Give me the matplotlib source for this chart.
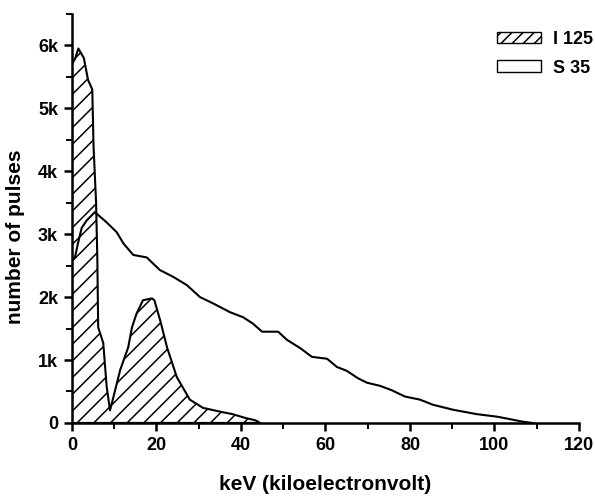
import numpy as np
import matplotlib
matplotlib.use('Agg')
import matplotlib.pyplot as plt
from matplotlib.patches import Patch
from matplotlib.ticker import MultipleLocator, FuncFormatter

plt.rcParams['font.family'] = ['Liberation Sans', 'DejaVu Sans']
plt.rcParams['font.weight'] = 'bold'
plt.rcParams['hatch.linewidth'] = 1.1

# I 125 spectrum (keV, pulses)
i125_kev = [0, 0.8, 1.5, 2.8, 3.8, 4.8, 5.1, 5.7, 6.0, 6.2, 7.4, 8.2, 9.0, 9.8,
            11.4, 13.3, 14.2, 15.3, 16.8, 18.9, 19.5, 21.0, 22.5, 24.8, 27.9,
            31.0, 35.0, 38.0, 41.0, 43.5, 44.5]
i125_cnt = [5700, 5800, 5950, 5800, 5450, 5300, 4400, 3500, 2600, 1520, 1270, 580,
            200, 410, 840, 1200, 1520, 1740, 1950, 1980, 1950, 1600, 1200, 730,
            370, 240, 180, 140, 80, 40, 0]

# S 35 spectrum (keV, pulses)
s35_kev = [0, 0.7, 1.4, 2.3, 3.5, 5.4, 8.0, 10.6, 12.2, 14.5, 17.7, 20.8, 24.0,
           27.2, 30.3, 33.4, 37.4, 40.5, 42.8, 45.0, 48.8, 50.9, 54.0, 56.8,
           60.4, 62.7, 65.0, 67.7, 69.8, 72.9, 75.7, 78.8, 82.4, 85.4, 90.2,
           95.8, 100.6, 103.7, 106.7, 109.0]
s35_cnt = [2600, 2630, 2850, 3100, 3220, 3350, 3200, 3030, 2850, 2670, 2630, 2430,
           2320, 2190, 2000, 1900, 1760, 1680, 1580, 1450, 1450, 1320, 1190, 1050,
           1020, 890, 830, 710, 640, 590, 520, 420, 370, 290, 210,
           140, 100, 60, 20, 0]

fig = plt.figure(figsize=(5.95, 4.97), dpi=100)
ax = fig.add_axes([0.121, 0.149, 0.852, 0.823])

ax.fill_between(i125_kev, i125_cnt, 0, facecolor='white', edgecolor='black',
                hatch='//', linewidth=1.5, zorder=2)
ax.plot(s35_kev, s35_cnt, color='black', lw=1.5, zorder=3)

ax.set_xlim(0, 120)
ax.set_ylim(0, 6500)
ax.spines['top'].set_visible(False)
ax.spines['right'].set_visible(False)
ax.spines['left'].set_linewidth(1.8)
ax.spines['bottom'].set_linewidth(1.8)

ax.xaxis.set_major_locator(MultipleLocator(20))
ax.xaxis.set_minor_locator(MultipleLocator(10))
ax.yaxis.set_major_locator(MultipleLocator(1000))
ax.yaxis.set_minor_locator(MultipleLocator(500))
ax.yaxis.set_major_formatter(FuncFormatter(lambda v, p: '0' if v == 0 else '%dk' % (v / 1000)))
ax.tick_params(which='major', length=6, width=1.8, labelsize=13, direction='out', pad=4)
ax.tick_params(which='minor', length=4, width=1.4, direction='out')

ax.set_xlabel('keV (kiloelectronvolt)', fontsize=15, fontweight='bold', labelpad=15)
ax.set_ylabel('number of pulses', fontsize=15, fontweight='bold')
ax.yaxis.set_label_coords(-0.092, 0.455)

handles = [Patch(facecolor='white', edgecolor='black', hatch='///', label='I 125'),
           Patch(facecolor='white', edgecolor='black', label='S 35')]
fig.legend(handles=handles, loc='upper right', bbox_to_anchor=(1.0, 1 - 29 / 497),
           frameon=False, fontsize=13, handlelength=2.4, handleheight=0.6,
           handletextpad=0.7, labelspacing=0.65, borderaxespad=0, borderpad=0.1)

fig.savefig('out.png', dpi=100)
